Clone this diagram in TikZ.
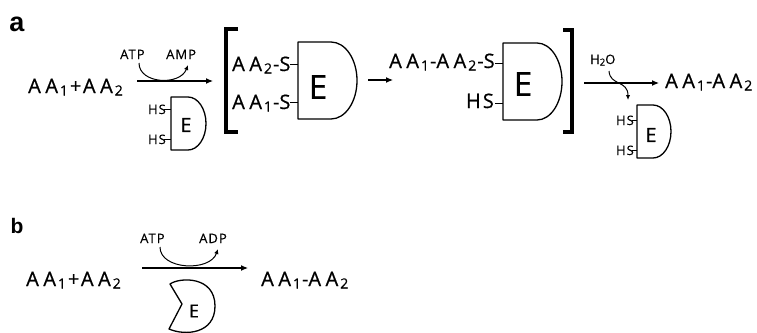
\documentclass[tikz,border=0pt]{standalone}
\usepackage{fontspec}
\setmainfont{Open Sans}
\newfontfamily\bigf[FakeBold=0.7]{Open Sans}
\newfontfamily\smf[LetterSpace=8,FakeBold=0.4]{Open Sans}
\newfontfamily\labf{Liberation Sans}
\usetikzlibrary{arrows.meta}

\newcommand\sbt[1]{\kern2pt\raisebox{-2.5pt}{\fontsize{14}{14}\selectfont #1}}
\newcommand\ssb[1]{\raisebox{-1.5pt}{\fontsize{9.5}{9.5}\selectfont #1}}
\newcommand\dA{A\kern4.5pt A}
\newcommand\dshape[5]{%
  \draw[eshape] (#1,#2) -- (#4,#2)
    .. controls ({#4+0.552*(#5-#4)},#2) and (#5,{#2+0.224*(#3-#2)}) .. (#5,{(#2+#3)/2})
    .. controls (#5,{#3-0.224*(#3-#2)}) and ({#4+0.552*(#5-#4)},#3) .. (#4,#3)
    -- (#1,#3) -- cycle;}

\tikzset{
  big/.style={inner sep=0pt, font=\bigf\fontsize{20}{22}\selectfont},
  sml/.style={inner sep=0pt, font=\smf\fontsize{13}{14}\selectfont},
  bigE/.style={inner sep=0pt, font=\bigf\fontsize{33}{33}\selectfont},
  smallE/.style={inner sep=0pt, font=\bigf\fontsize{19.5}{20}\selectfont},
  eshape/.style={line width=1.3pt, line join=round},
  tickline/.style={line width=1pt},
  rxn/.style={line width=1.1pt, -{Latex[length=7pt,width=6pt]}},
  curv/.style={line width=1pt, -{Latex[length=5pt,width=4.5pt]}},
  brk/.style={line width=3.2pt, line join=miter},
  panel/.style={inner sep=0pt, font=\labf\bfseries}
}

\begin{document}
\begin{tikzpicture}[x=1pt,y=-1pt]
\useasboundingbox (0,0) rectangle (757,332);
\node[panel,font=\labf\bfseries\fontsize{27}{27}\selectfont] (la) at (17,24) {a};
\node[panel,font=\labf\bfseries\fontsize{21}{21}\selectfont] (lb) at (17,226) {b};

% ---------- panel a ----------
\node[big,anchor=base west] (r1) at (28,93) {\dA\sbt{1}\kern2pt+\kern1.5pt\dA\sbt{2}};
\coordinate (a1s) at (137,81); \coordinate (a1e) at (213,81);
\draw[rxn] (a1s) -- (a1e);
\node[sml,anchor=base west] (atp1) at (120,59) {ATP};
\node[sml,anchor=base west] (amp1) at (166,59) {AMP};
\coordinate (c1s) at (139,63); \coordinate (c1e) at (188,65);
\draw[curv] (c1s) .. controls (139,84) and (180,86) .. (c1e);

% small enzyme (left)
\dshape{171}{97}{150}{188}{206}
\node[smallE] (e1) at (186,125) {E};
\node[sml,anchor=base east] (hs1) at (166,114) {HS};
\node[sml,anchor=base east] (hs2) at (166,144) {HS};
\coordinate (t1a) at (164,109); \coordinate (t1b) at (171,109);
\coordinate (t2a) at (164,139); \coordinate (t2b) at (171,139);
\draw[tickline] (t1a) -- (t1b);
\draw[tickline] (t2a) -- (t2b);

% left bracket
\coordinate (lb1) at (238,29); \coordinate (lb2) at (226,29);
\coordinate (lb3) at (226,132); \coordinate (lb4) at (238,132);
\draw[brk] (lb1) -- (lb2) -- (lb3) -- (lb4);

% big enzyme 1
\node[big,anchor=base west] (aa2s) at (232,71) {\dA\sbt{2}\kern1pt-S};
\node[big,anchor=base west] (aa1s) at (232,109) {\dA\sbt{1}\kern1pt-S};
\dshape{298}{42}{119}{331}{357}
\node[bigE] (E1) at (318,87) {E};
\coordinate (t3a) at (290,64); \coordinate (t3b) at (298,64);
\coordinate (t4a) at (290,102); \coordinate (t4b) at (298,102);
\draw[tickline] (t3a) -- (t3b);
\draw[tickline] (t4a) -- (t4b);

\coordinate (a2s) at (368,80); \coordinate (a2e) at (393,80);
\draw[rxn] (a2s) -- (a2e);

% big enzyme 2
\node[big,anchor=base west] (aa12s) at (389,68) {\dA\sbt{1}\kern1pt-\dA\sbt{2}\kern1pt-S};
\node[big,anchor=base east] (hs3) at (494,108) {H\kern2pt S};
\dshape{503}{43}{120}{537}{562}
\node[bigE] (E2) at (523,84) {E};
\coordinate (t5a) at (495,63); \coordinate (t5b) at (503,63);
\coordinate (t6a) at (495,103); \coordinate (t6b) at (503,103);
\draw[tickline] (t5a) -- (t5b);
\draw[tickline] (t6a) -- (t6b);

% right bracket
\coordinate (rb1) at (563,30); \coordinate (rb2) at (572,30);
\coordinate (rb3) at (572,132); \coordinate (rb4) at (563,132);
\draw[brk] (rb1) -- (rb2) -- (rb3) -- (rb4);

\coordinate (a3s) at (584,83); \coordinate (a3e) at (659,83);
\draw[rxn] (a3s) -- (a3e);
\node[sml,anchor=base west] (h2o) at (590,64) {H\ssb{2}O};
\coordinate (c2s) at (609,71); \coordinate (c2e) at (628,100);
\draw[curv] (c2s) .. controls (610,86) and (628,80) .. (c2e);
\node[big,anchor=base west] (prod1) at (665,88) {\dA\sbt{1}\kern1pt-\dA\sbt{2}};

% small enzyme (right)
\dshape{637}{105}{158}{653}{671}
\node[smallE] (e2) at (651,135) {E};
\node[sml,anchor=base east] (hs4) at (634,125) {HS};
\node[sml,anchor=base east] (hs5) at (634,155) {HS};
\coordinate (t7a) at (632,120); \coordinate (t7b) at (637,120);
\coordinate (t8a) at (632,150); \coordinate (t8b) at (637,150);
\draw[tickline] (t7a) -- (t7b);
\draw[tickline] (t8a) -- (t8b);

% ---------- panel b ----------
\node[big,anchor=base west] (r2) at (26,286) {\dA\sbt{1}\kern2pt+\kern1.5pt\dA\sbt{2}};
\coordinate (b1s) at (142,268); \coordinate (b1e) at (248,268);
\draw[rxn] (b1s) -- (b1e);
\node[sml,anchor=base west] (atp2) at (140,243) {ATP};
\node[sml,anchor=base west] (adp2) at (199,243) {ADP};
\coordinate (c3s) at (160,247); \coordinate (c3e) at (218,249);
\draw[curv] (c3s) .. controls (160,270) and (210,272) .. (c3e);
\node[big,anchor=base west] (prod2) at (261,286) {\dA\sbt{1}\kern1pt-\dA\sbt{2}};
\draw[eshape] (170,284) .. controls (180,277) and (215,276) .. (215,306)
  .. controls (215,334) and (185,336) .. (169,329) -- (182,304) -- cycle;
\node[smallE,font=\bigf\fontsize{18}{18}\selectfont] (e3) at (194,311) {E};
\end{tikzpicture}
\end{document}
